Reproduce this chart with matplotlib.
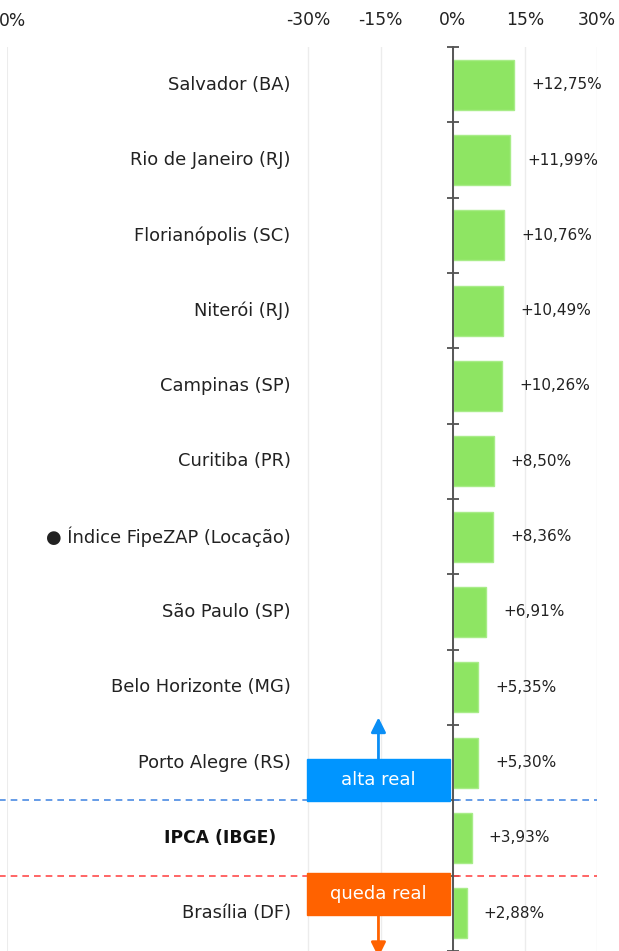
import matplotlib
matplotlib.use("Agg")
import matplotlib.pyplot as plt
from matplotlib.patches import Rectangle
from matplotlib.transforms import offset_copy

categories = ["Salvador (BA)", "Rio de Janeiro (RJ)", "Florianópolis (SC)", "Niterói (RJ)",
              "Campinas (SP)", "Curitiba (PR)", "● Índice FipeZAP (Locação)", "São Paulo (SP)",
              "Belo Horizonte (MG)", "Porto Alegre (RS)", "IPCA (IBGE)", "Brasília (DF)"]
values = [12.75, 11.99, 10.76, 10.49, 10.26, 8.50, 8.36, 6.91, 5.35, 5.30, 3.93, 2.88]
xticks = [-30, -15, 0, 15, 30]
xtick_labels = ["-30%", "-15%", "0%", "15%", "30%"]
bold_category = "IPCA (IBGE)"
ipca_index = categories.index(bold_category)

plt.rcParams['font.family'] = ['DejaVu Sans']
FS_CAT = 12.9
FS_VAL = 11.0
FS_TICK = 12.3
FS_BOX = 13.0
TXT = '#222222'

W, H = 619, 951
fig = plt.figure(figsize=(W / 100, H / 100), dpi=100)
ax_left, ax_right, ax_top = 7, 597, 47
ax = fig.add_axes([ax_left / W, 0, (ax_right - ax_left) / W, (H - ax_top) / H])
xmin, xmax = -92.7, 30
ax.set_xlim(xmin, xmax)
n = len(categories)
ax.set_ylim(n - 0.5, -0.5)

ypos = list(range(n))
ax.barh(ypos, values, height=0.66, color='#8EE563', edgecolor='#A8EC88', linewidth=1, zorder=3)

# grid
ax.set_xticks(xticks)
ax.set_xticklabels(xtick_labels, fontsize=FS_TICK, color=TXT)
ax.xaxis.tick_top()
ax.tick_params(axis='x', length=0, pad=13)
ax.grid(axis='x', color='#ececec', linewidth=1, zorder=0)
ax.axvline(xmin, color='#ececec', linewidth=1.5, zorder=0)
fig.text(12 / W, 1 - 21 / H, "0%", ha='center', va='center', fontsize=FS_TICK, color=TXT)

for s in ['top', 'right', 'bottom']:
    ax.spines[s].set_visible(False)
ax.spines['left'].set_position(('data', 0))
ax.spines['left'].set_color('#555555')
ax.spines['left'].set_linewidth(1.4)
ax.spines['left'].set_zorder(5)
ax.set_yticks([])
ax.set_yticks([i - 0.5 for i in range(n + 1)], minor=True)
ax.tick_params(axis='y', which='minor', direction='inout', length=9, width=1.1, color='#333333')

# category labels
lab_tr = offset_copy(ax.transData, fig=fig, x=-162 * 0.72, y=0, units='points')
for i, c in enumerate(categories):
    if c == bold_category:
        tr = offset_copy(ax.transData, fig=fig, x=-176 * 0.72, y=0, units='points')
        ax.text(0, i, c, transform=tr, ha='right', va='center', fontsize=FS_TICK, color='#111111',
                fontweight='bold')
    else:
        ax.text(0, i, c, transform=lab_tr, ha='right', va='center', fontsize=FS_CAT, color=TXT)

# value labels
val_tr = offset_copy(ax.transData, fig=fig, x=17 * 0.72, y=0, units='points')
for i, v in enumerate(values):
    ax.text(v, i, ("+%.2f%%" % v).replace('.', ','), transform=val_tr, ha='left', va='center',
            fontsize=FS_VAL, color=TXT, clip_on=False)

# reference lines
ax.hlines(ipca_index - 0.5, xmin - 5, 30, colors='#4C8BE3', linestyles=(0, (4, 3)),
          linewidth=1.2, zorder=4, clip_on=False)
ax.hlines(ipca_index + 0.5, xmin - 5, 30, colors='#FF4B4B', linestyles=(0, (4, 3)),
          linewidth=1.2, zorder=4, clip_on=False)

# annotation boxes
bx0, bx1 = -30.4, -0.5
ax.add_patch(Rectangle((bx0, ipca_index - 1.05), bx1 - bx0, 0.56, color='#0095FF', zorder=6))
ax.text((bx0 + bx1) / 2, ipca_index - 0.77, "alta real", ha='center', va='center',
        fontsize=FS_BOX, color='white', zorder=7)
ax.annotate("", xy=((bx0 + bx1) / 2, ipca_index - 1.6), xytext=((bx0 + bx1) / 2, ipca_index - 1.05),
            arrowprops=dict(arrowstyle='-|>', color='#0A8EF5', lw=2, mutation_scale=22,
                            shrinkA=0, shrinkB=0), zorder=6)
ax.add_patch(Rectangle((bx0, ipca_index + 0.465), bx1 - bx0, 0.56, color='#FF6200', zorder=6,
                       clip_on=False))
ax.text((bx0 + bx1) / 2, ipca_index + 0.74, "queda real", ha='center', va='center',
        fontsize=FS_BOX, color='white', zorder=7)
ax.annotate("", xy=((bx0 + bx1) / 2, ipca_index + 1.58), xytext=((bx0 + bx1) / 2, ipca_index + 1.025),
            arrowprops=dict(arrowstyle='-|>', color='#FF6200', lw=2, mutation_scale=22,
                            shrinkA=0, shrinkB=0), annotation_clip=False, zorder=6)

fig.savefig("out.png", dpi=100)
